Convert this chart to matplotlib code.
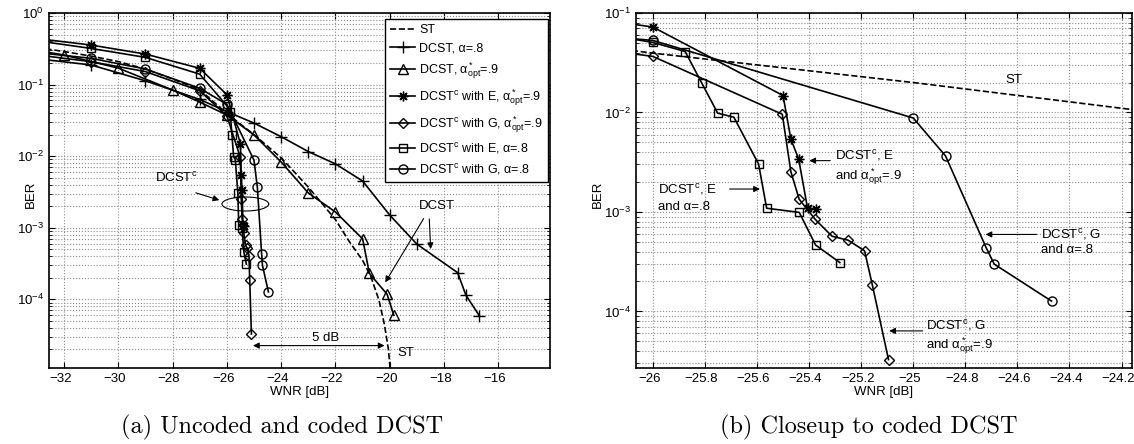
import numpy as np
import matplotlib.pyplot as plt
from matplotlib.ticker import LogLocator, NullFormatter
from matplotlib.transforms import ScaledTranslation

plt.rcParams["font.family"] = ["Liberation Sans", "DejaVu Sans"]
plt.rcParams["mathtext.fontset"] = "custom"
plt.rcParams["mathtext.rm"] = "Liberation Sans"
plt.rcParams["mathtext.it"] = "Liberation Sans"
plt.rcParams["mathtext.bf"] = "Liberation Sans:bold"

# -------------------------------------------------------------------
# 1. Data
# -------------------------------------------------------------------
st_x = [-33, -32, -31, -30, -29, -28, -27, -26, -25, -24, -23, -22, -21.5,
        -21, -20.7, -20.4, -20.2, -20.05, -19.98]
st_y = [0.33, 0.29, 0.25, 0.21, 0.165, 0.12, 0.085, 0.0395, 0.02, 0.0095,
        0.0037, 0.0013, 6.5e-4, 3.5e-4, 2.1e-4, 9.8e-5, 4.5e-5, 2e-5, 1e-5]

dcst8_x = [-33, -31, -29, -27, -26, -25, -24, -23, -22, -21, -20, -19,
           -17.5, -17.2, -16.7]
dcst8_y = [0.23, 0.188, 0.113, 0.062, 0.042, 0.029, 0.0187, 0.0116, 0.0078,
           0.0045, 0.0015, 5.9e-4, 2.36e-4, 1.15e-4, 5.9e-5]

dcst9_x = [-33, -32, -30, -28, -27, -26, -25, -24, -23, -22, -21, -20.75,
           -20.1, -19.85]
dcst9_y = [0.30, 0.259, 0.17, 0.084, 0.057, 0.0376, 0.0198, 0.0083, 0.00306,
           0.00166, 7.0e-4, 2.3e-4, 1.18e-4, 6.0e-5]

e9_x = [-33, -31, -29, -27, -26, -25.5, -25.47, -25.44, -25.406, -25.375]
e9_y = [0.44, 0.357, 0.267, 0.169, 0.0723, 0.0148, 0.0054, 0.0034, 0.00109,
        0.00106]

g9_x = [-33, -31, -29, -27, -26, -25.503, -25.47, -25.438, -25.376, -25.312,
        -25.25, -25.187, -25.157, -25.095]
g9_y = [0.26, 0.209, 0.152, 0.082, 0.0366, 0.0096, 0.00254, 0.00134, 8.4e-4,
        5.7e-4, 5.2e-4, 4.07e-4, 1.84e-4, 3.28e-5]

e8_x = [-33, -31, -29, -27, -26, -25.876, -25.812, -25.751, -25.689, -25.594,
        -25.563, -25.438, -25.375, -25.282]
e8_y = [0.41, 0.32, 0.24, 0.14, 0.0506, 0.041, 0.0197, 0.00984, 0.00897,
        0.00303, 0.00109, 9.9e-4, 4.65e-4, 3.1e-4]

g8_x = [-33, -31, -29, -27, -26, -25, -24.876, -24.72, -24.689, -24.469]
g8_y = [0.28, 0.233, 0.165, 0.089, 0.053, 0.0088, 0.00366, 4.37e-4, 2.99e-4,
        1.27e-4]

mfs = dict(color="black", lw=1.2, mfc="none", mec="black", mew=1.0)
star = (8, 2, 0)
arrow = dict(arrowstyle="-|>", color="black", lw=0.8, mutation_scale=9)


def style_axes(ax, xlim, ylim, xticks, ylab_x):
    ax.set_yscale("log")
    ax.set_xlim(*xlim)
    ax.set_ylim(*ylim)
    ax.set_xticks(xticks)
    ax.yaxis.set_major_locator(LogLocator(base=10))
    ax.yaxis.set_minor_locator(LogLocator(base=10, subs=np.arange(2, 10)))
    ax.yaxis.set_minor_formatter(NullFormatter())
    ax.tick_params(which="both", direction="in", top=True, right=True,
                   labelsize=9.5)
    ax.tick_params(which="major", length=4)
    ax.tick_params(which="minor", length=2)
    ax.grid(which="major", ls=":", color="0.55", lw=0.8)
    ax.grid(which="minor", axis="y", ls=":", color="0.55", lw=0.8)
    ax.set_xlabel("WNR [dB]", fontsize=9.5, labelpad=1)
    ax.set_ylabel("BER", fontsize=9.5)
    ax.yaxis.set_label_coords(ylab_x, 0.49)
    for s in ax.spines.values():
        s.set_linewidth(1.2)
    # MATLAB puts the tick labels a few pixels left of the tick
    shift = ScaledTranslation(-3.5 / 100, 0, fig.dpi_scale_trans)
    for lab in ax.get_xticklabels():
        lab.set_transform(lab.get_transform() + shift)


fig = plt.figure(figsize=(11.34, 4.44), dpi=100)
ax1 = fig.add_axes([0.0432, 0.1712, 0.4418, 0.7995])
ax2 = fig.add_axes([0.5608, 0.1712, 0.4374, 0.7995])

# -------------------------------------------------------------------
# 2. Panel (a): uncoded and coded DCST
# -------------------------------------------------------------------
ax1.plot(st_x, st_y, "--", color="black", lw=1.2, label="ST")
ax1.plot(dcst8_x, dcst8_y, marker="+", ms=8, label="DCST, α=.8", **mfs)
ax1.plot(dcst9_x, dcst9_y, marker="^", ms=7,
         label=r"DCST, α$^*_{\rm opt}$=.9", **mfs)
ax1.plot(e9_x, e9_y, marker=star, ms=7,
         label=r"DCST$^{\rm c}$ with E, α$^*_{\rm opt}$=.9", **mfs)
ax1.plot(g9_x, g9_y, marker="D", ms=5,
         label=r"DCST$^{\rm c}$ with G, α$^*_{\rm opt}$=.9", **mfs)
ax1.plot(e8_x, e8_y, marker="s", ms=5.5,
         label=r"DCST$^{\rm c}$ with E, α=.8", **mfs)
ax1.plot(g8_x, g8_y, marker="o", ms=6.5,
         label=r"DCST$^{\rm c}$ with G, α=.8", **mfs)
style_axes(ax1, (-32.55, -14.1), (1.1e-5, 1), np.arange(-32, -15, 2), -0.024)

leg = ax1.legend(loc="upper right", bbox_to_anchor=(0.996, 0.983),
                 borderaxespad=0, fontsize=9, fancybox=False,
                 edgecolor="black", framealpha=1, handlelength=2.0,
                 labelspacing=0.5, borderpad=0.4, handletextpad=0.3)
leg.get_frame().set_linewidth(1.0)

# annotations
ax1.text(-27.87, 0.0050, r"DCST$^{\rm c}$", fontsize=9.5, ha="center",
         va="center")
t = np.linspace(0, 2 * np.pi, 200)
ax1.plot(-25.32 + 0.86 * np.cos(t), 10 ** (-2.668 + 0.098 * np.sin(t)),
         color="black", lw=0.8)
ax1.annotate("", xy=(-26.18, 0.00237), xytext=(-27.24, 0.00316),
             arrowprops=arrow)
ax1.text(-18.25, 0.0020, "DCST", fontsize=9.5, ha="center", va="center")
ax1.annotate("", xy=(-20.22, 1.6e-4), xytext=(-18.7, 1.45e-3),
             arrowprops=arrow)
ax1.annotate("", xy=(-18.49, 4.6e-4), xytext=(-18.55, 1.45e-3),
             arrowprops=arrow)
ax1.annotate("", xy=(-25.14, 2.26e-5), xytext=(-20.09, 2.26e-5),
             arrowprops=dict(arrowstyle="<|-|>", color="black", lw=0.8,
                             mutation_scale=9))
ax1.text(-22.37, 2.9e-5, "5 dB", fontsize=9.5, ha="center", va="center",
         bbox=dict(fc="white", ec="none", pad=1))
ax1.text(-19.42, 1.78e-5, "ST", fontsize=9.5, ha="center", va="center")

# -------------------------------------------------------------------
# 3. Panel (b): closeup to coded DCST
# -------------------------------------------------------------------
ax2.plot(st_x, st_y, "--", color="black", lw=1.2)
ax2.plot(e9_x, e9_y, marker=star, ms=7, **mfs)
ax2.plot(g9_x, g9_y, marker="D", ms=5, **mfs)
ax2.plot(e8_x, e8_y, marker="s", ms=5.5, **mfs)
ax2.plot(g8_x, g8_y, marker="o", ms=6.5, **mfs)
ax2.xaxis.set_major_formatter(plt.FuncFormatter(
    lambda v, p: ("%g" % round(v, 1)).replace("-", "\u2212")))
style_axes(ax2, (-26.065, -24.16), (2.7e-5, 0.1),
           np.round(np.arange(-26, -24.1, 0.2), 1), -0.065)

ax2.text(-24.612, 0.0213, "ST", fontsize=9.5, ha="center", va="center")
ax2.text(-25.98, 0.0014, "DCST$^{\\rm c}$, E\nand α=.8", fontsize=9.5,
         ha="left", va="center", linespacing=1.5)
ax2.annotate("", xy=(-25.578, 0.0017), xytext=(-25.716, 0.0017),
             arrowprops=arrow)
ax2.text(-25.30, 0.0028, "DCST$^{\\rm c}$, E\nand α$^*_{\\rm opt}$=.9",
         fontsize=9.5, ha="left", va="center", linespacing=1.2)
ax2.annotate("", xy=(-25.41, 0.00328), xytext=(-25.308, 0.00328),
             arrowprops=arrow)
ax2.text(-24.51, 5.0e-4, "DCST$^{\\rm c}$, G\nand α=.8", fontsize=9.5,
         ha="left", va="center", linespacing=1.2)
ax2.annotate("", xy=(-24.733, 5.94e-4), xytext=(-24.516, 5.94e-4),
             arrowprops=arrow)
ax2.text(-24.95, 5.5e-5, "DCST$^{\\rm c}$, G\nand α$^*_{\\rm opt}$=.9",
         fontsize=9.5, ha="left", va="center", linespacing=1.2)
ax2.annotate("", xy=(-25.103, 6.37e-5), xytext=(-24.953, 6.37e-5),
             arrowprops=arrow)

# -------------------------------------------------------------------
# 4. Captions
# -------------------------------------------------------------------
fig.text(0.249, 0.038, "(a) Uncoded and coded DCST", fontname="cmr10",
         fontsize=17.5, ha="center", va="center")
fig.text(0.766, 0.038, "(b) Closeup to coded DCST", fontname="cmr10",
         fontsize=17.5, ha="center", va="center")

fig.savefig("out.png", dpi=100)
